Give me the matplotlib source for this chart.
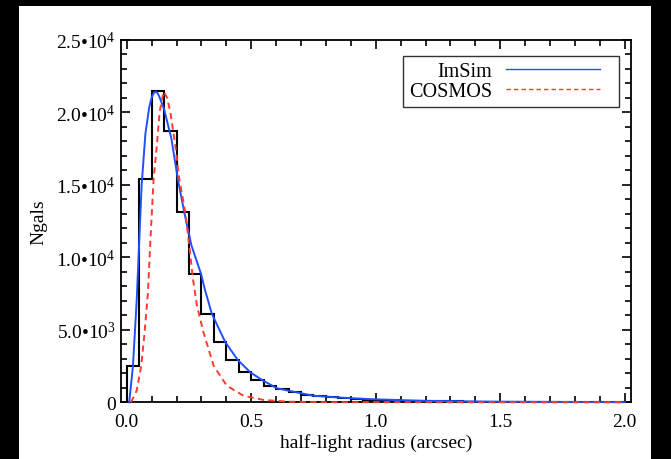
import numpy as np
import matplotlib
matplotlib.use("Agg")
import matplotlib.pyplot as plt
from matplotlib.patches import Rectangle
from matplotlib.ticker import MultipleLocator, FixedLocator, FixedFormatter
from matplotlib.legend_handler import HandlerLine2D

plt.rcParams["font.family"] = ["Liberation Serif", "DejaVu Serif"]
plt.rcParams["mathtext.fontset"] = "custom"
plt.rcParams["mathtext.rm"] = "Liberation Serif"
plt.rcParams["mathtext.it"] = "Liberation Serif:italic"

# Histogram of measured half-light radii (bin width 0.05 arcsec)
bin_edges = np.round(np.arange(0.0, 2.0001, 0.05), 3)
counts = [2480, 15400, 21420, 18690, 13100, 8870, 6090, 4140, 2940, 2070,
          1540, 1150, 930, 690, 520, 410, 340, 280, 230, 190,
          160, 140, 120, 100, 85, 70, 60, 50, 45, 40,
          35, 30, 26, 22, 19, 16, 14, 12, 10, 9]

# ImSim size distribution
imsim_r = [0.010, 0.025, 0.040, 0.050, 0.060, 0.075, 0.090, 0.100, 0.108, 0.115,
           0.122, 0.130, 0.150, 0.179, 0.205, 0.231, 0.260, 0.298, 0.315, 0.342,
           0.396, 0.445, 0.496, 0.543, 0.603, 0.650, 0.750, 0.880, 1.000, 1.200,
           1.500, 2.000]
imsim_n = [0, 2500, 7000, 11000, 15000, 18500, 20300, 21000, 21300, 21400,
           21350, 21100, 20200, 18200, 15400, 13100, 10800, 8870, 7700, 6090,
           4140, 2940, 2070, 1540, 970, 800, 450, 300, 200, 100,
           40, 10]

# COSMOS size distribution
cosmos_r = [0.017, 0.040, 0.058, 0.070, 0.085, 0.094, 0.108, 0.121, 0.132, 0.148,
            0.162, 0.175, 0.195, 0.211, 0.235, 0.251, 0.266, 0.282, 0.308, 0.349,
            0.402, 0.469, 0.550, 0.650, 0.800, 2.000]
cosmos_n = [0, 800, 2480, 4500, 7500, 10800, 15400, 17700, 20000, 21400,
            21000, 20000, 17700, 15400, 13100, 10800, 8500, 6660, 4830, 2520,
            1140, 450, 160, 40, 10, 0]

ytick_vals = [0, 5000, 10000, 15000, 20000, 25000]
ytick_text = ["0", r"5.0•10$^{3}$", r"1.0•10$^{4}$", r"1.5•10$^{4}$",
              r"2.0•10$^{4}$", r"2.5•10$^{4}$"]
xtick_vals = [0.0, 0.5, 1.0, 1.5, 2.0]
xtick_text = ["0.0", "0.5", "1.0", "1.5", "2.0"]


class ShortLineHandler(HandlerLine2D):
    """Legend line that leaves blank space on its right-hand side."""
    def create_artists(self, legend, orig_handle, xdescent, ydescent,
                       width, height, fontsize, trans):
        return super().create_artists(legend, orig_handle, xdescent, ydescent,
                                      width * 0.88, height, fontsize, trans)


W, H = 671, 460
fig = plt.figure(figsize=(W / 100, H / 100), dpi=100, facecolor="black")
fig.patches.append(Rectangle((19 / W, 0), (651 - 19) / W, (H - 7) / H,
                             transform=fig.transFigure, facecolor="white",
                             edgecolor="none", zorder=-10))

left, right, top, bottom = 120.5, 631, 40.5, 403.3
ax = fig.add_axes([left / W, 1 - bottom / H, (right - left) / W, (bottom - top) / H])
ax.set_facecolor("white")

ax.stairs(counts, bin_edges, color="black", lw=1.5, zorder=2, baseline=0)
ax.plot(imsim_r, imsim_n, color="#1f4fff", lw=1.4, zorder=3, clip_on=False,
        label="ImSim")
red, = ax.plot(cosmos_r, cosmos_n, color="#ff3a30", lw=1.4, zorder=4, clip_on=False,
               label="COSMOS")
red.set_dashes((3.2, 2.2))

ax.set_xlim(-0.025, 2.025)
ax.set_ylim(0, 25000)

ax.xaxis.set_major_locator(FixedLocator(xtick_vals))
ax.xaxis.set_major_formatter(FixedFormatter(xtick_text))
ax.xaxis.set_minor_locator(MultipleLocator(0.1))
ax.yaxis.set_major_locator(FixedLocator(ytick_vals))
ax.yaxis.set_major_formatter(FixedFormatter(ytick_text))
ax.yaxis.set_minor_locator(MultipleLocator(1000))

ax.tick_params(which="both", direction="in", top=True, right=True,
               color="black", width=1.2, labelsize=14)
ax.tick_params(which="major", length=6.7)
ax.tick_params(which="minor", length=4.3)
ax.tick_params(axis="x", which="major", pad=8)
ax.tick_params(axis="y", which="major", pad=3.5)
for s in ax.spines.values():
    s.set_linewidth(1.3)

ax.set_xlabel("half-light radius (arcsec)", fontsize=14, labelpad=2)
ax.set_ylabel("Ngals", fontsize=14, labelpad=6)

leg = ax.legend(loc="upper right", bbox_to_anchor=(618.5 / W, 1 - 57 / H),
                bbox_transform=fig.transFigure, fontsize=14.5, markerfirst=False,
                frameon=True, fancybox=False, handlelength=5.27, handletextpad=0.7,
                borderpad=0.3, labelspacing=0.05, borderaxespad=0,
                handler_map={plt.Line2D: ShortLineHandler()})
leg.get_frame().set_edgecolor("black")
leg.get_frame().set_linewidth(1.0)
for t in leg.get_texts():
    t.set_ha("right")
for h in leg.get_lines():
    h.set_linewidth(1.0)

fig.savefig("out.png", dpi=100, facecolor=fig.get_facecolor())
